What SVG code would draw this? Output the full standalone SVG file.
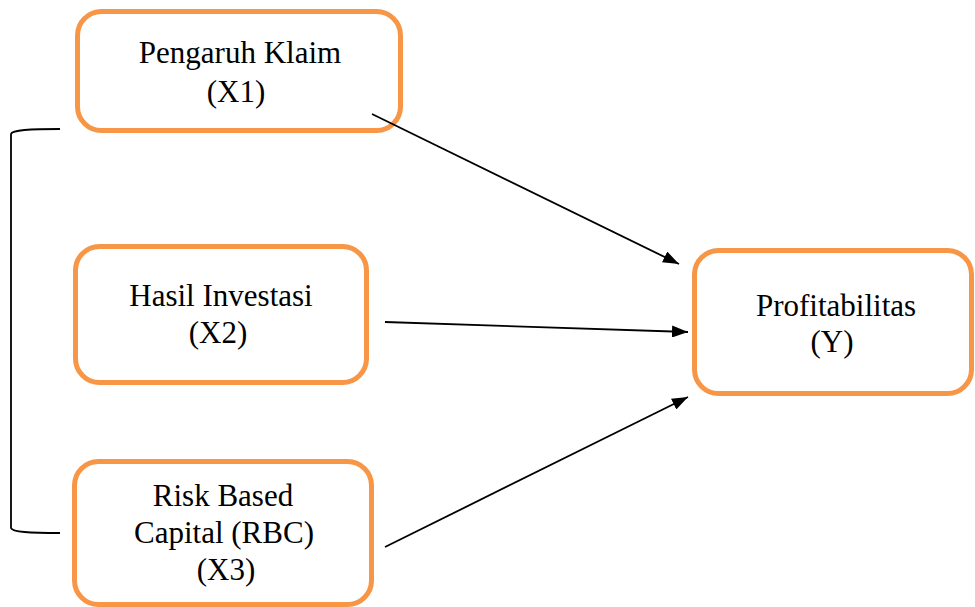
<svg xmlns="http://www.w3.org/2000/svg" width="975" height="607" viewBox="0 0 975 607">
<style>
.box{fill:#fff;stroke:#F79646;stroke-width:5}
.t{font-family:"Liberation Serif","Times New Roman",Times,serif;font-size:31px;fill:#000;text-anchor:middle}
.c{fill:none;stroke:#000;stroke-width:1.8}
</style>
<defs>
<marker id="ah" viewBox="0 0 16 12" refX="16" refY="6" markerWidth="16" markerHeight="12" markerUnits="userSpaceOnUse" orient="auto">
<path d="M0,0 L16,6 L0,12 Z" fill="#000"/>
</marker>
</defs>
<rect width="975" height="607" fill="#fff"/>
<g id="x1">
<rect class="box" x="77.5" y="11.5" width="323" height="119" rx="24"/>
<text class="t" x="240" y="63">Pengaruh Klaim</text>
<text class="t" x="236" y="102">(X1)</text>
</g>
<g id="x2">
<rect class="box" x="75.5" y="246.5" width="291" height="136" rx="24"/>
<text class="t" x="221" y="306">Hasil Investasi</text>
<text class="t" x="218" y="343">(X2)</text>
</g>
<g id="x3">
<rect class="box" x="74.5" y="461.5" width="297" height="143" rx="24"/>
<text class="t" x="223" y="506">Risk Based</text>
<text class="t" x="224" y="543">Capital (RBC)</text>
<text class="t" x="226" y="580">(X3)</text>
</g>
<g id="y">
<rect class="box" x="694.5" y="250.5" width="277" height="143" rx="24"/>
<text class="t" x="836" y="316">Profitabilitas</text>
<text class="t" x="832" y="352">(Y)</text>
</g>
<g id="connectors">
<path class="c" d="M60,129 C30,129 12,130 11,134 V528 C12,532 30,533 60,533"/>
<line class="c" x1="372" y1="114" x2="679" y2="264" marker-end="url(#ah)"/>
<line class="c" x1="385" y1="322" x2="688" y2="332" marker-end="url(#ah)"/>
<line class="c" x1="385" y1="547" x2="688" y2="397" marker-end="url(#ah)"/>
</g>
</svg>
